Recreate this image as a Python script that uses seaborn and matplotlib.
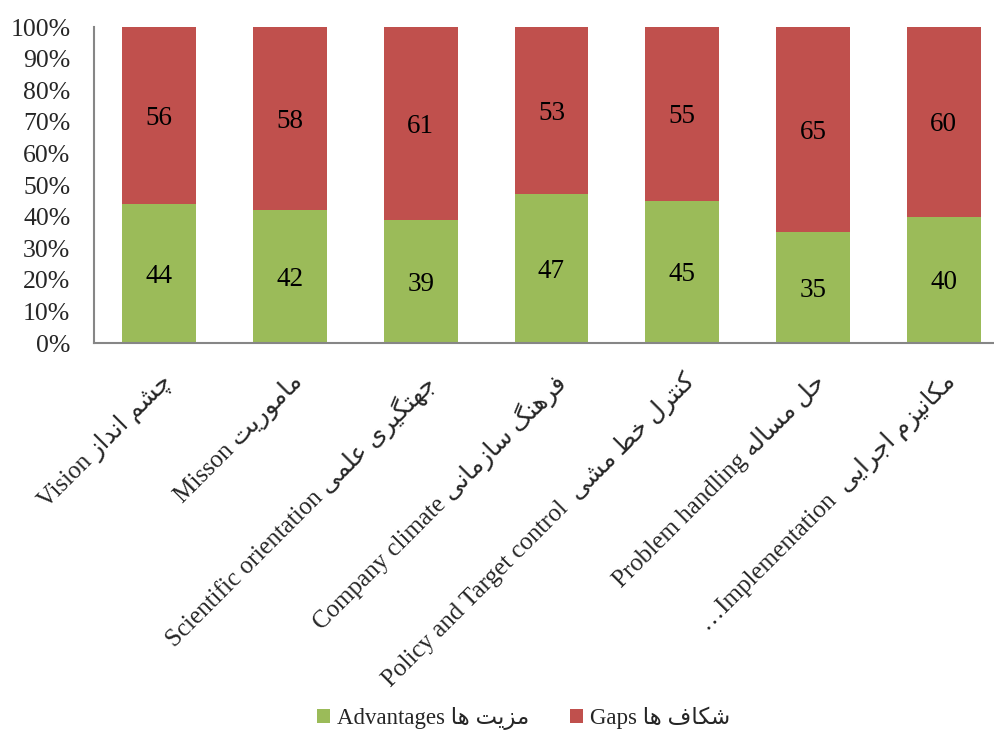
import matplotlib
matplotlib.use("Agg")
import matplotlib.pyplot as plt
import matplotlib.transforms as mtransforms
from matplotlib.patches import Patch
import pandas as pd
import seaborn as sns

# chart data
categories_en = ["Vision", "Misson", "Scientific orientation", "Company climate",
                 "Policy and Target control", "Problem handling", "…Implementation"]
categories_fa = ["چشم انداز", "ماموریت", "جهتگیری علمی", "فرهنگ سازمانی",
                 "کنترل خط مشی", "حل مساله", "مکانیزم اجرایی"]
label_gaps = [" ", " ", " ", " ", "  ", " ", "  "]
advantages = [44, 42, 39, 47, 45, 35, 40]
gaps = [56, 58, 61, 53, 55, 65, 60]
series_en = ["Advantages", "Gaps"]
series_fa = ["مزیت ها", "شکاف ها"]
yticks = [0, 10, 20, 30, 40, 50, 60, 70, 80, 90, 100]

GREEN = "#9BBB59"
RED = "#C0504D"
SPINE = "#868686"

# Persian presentation forms: isolated, final, initial, medial
FORMS = {
    "ا": ("\uFE8D", "\uFE8E", None, None),
    "د": ("\uFEA9", "\uFEAA", None, None),
    "ر": ("\uFEAD", "\uFEAE", None, None),
    "ز": ("\uFEAF", "\uFEB0", None, None),
    "و": ("\uFEED", "\uFEEE", None, None),
    "ت": ("\uFE95", "\uFE96", "\uFE97", "\uFE98"),
    "ج": ("\uFE9D", "\uFE9E", "\uFE9F", "\uFEA0"),
    "چ": ("\uFB7A", "\uFB7B", "\uFB7C", "\uFB7D"),
    "ح": ("\uFEA1", "\uFEA2", "\uFEA3", "\uFEA4"),
    "خ": ("\uFEA5", "\uFEA6", "\uFEA7", "\uFEA8"),
    "س": ("\uFEB1", "\uFEB2", "\uFEB3", "\uFEB4"),
    "ش": ("\uFEB5", "\uFEB6", "\uFEB7", "\uFEB8"),
    "ط": ("\uFEC1", "\uFEC2", "\uFEC3", "\uFEC4"),
    "ع": ("\uFEC9", "\uFECA", "\uFECB", "\uFECC"),
    "ف": ("\uFED1", "\uFED2", "\uFED3", "\uFED4"),
    "ک": ("\uFB8E", "\uFB8F", "\uFB90", "\uFB91"),
    "گ": ("\uFB92", "\uFB93", "\uFB94", "\uFB95"),
    "ل": ("\uFEDD", "\uFEDE", "\uFEDF", "\uFEE0"),
    "م": ("\uFEE1", "\uFEE2", "\uFEE3", "\uFEE4"),
    "ن": ("\uFEE5", "\uFEE6", "\uFEE7", "\uFEE8"),
    "ه": ("\uFEE9", "\uFEEA", "\uFEEB", "\uFEEC"),
    "ی": ("\uFBFC", "\uFBFD", "\uFBFE", "\uFBFF"),
}


def farsi(text):
    """Shape Persian letters and return them in visual (left-to-right) order."""
    out = []
    for i, ch in enumerate(text):
        if ch not in FORMS:
            out.append(ch)
            continue
        iso, fin, ini, med = FORMS[ch]
        prev = text[i - 1] if i > 0 else ""
        nxt = text[i + 1] if i + 1 < len(text) else ""
        join_prev = prev in FORMS and FORMS[prev][2] is not None
        join_next = ini is not None and nxt in FORMS
        if join_prev and join_next:
            out.append(med)
        elif join_prev:
            out.append(fin)
        elif join_next:
            out.append(ini)
        else:
            out.append(iso)
    return "".join(reversed(out))


df = pd.DataFrame({
    "cat": categories_en,
    "adv": advantages,
    "total": [a + g for a, g in zip(advantages, gaps)],
})

sns.set_style("white")
plt.rcParams["font.family"] = ["Liberation Serif", "DejaVu Sans"]

fig = plt.figure(figsize=(9.94, 7.34), dpi=100)
ax = fig.add_axes([94 / 994, 1 - 343 / 734, (1009 - 94) / 994, (343 - 27) / 734])

sns.barplot(data=df, x="cat", y="total", order=categories_en, color=RED,
            width=0.566, linewidth=0, saturation=1, ax=ax)
sns.barplot(data=df, x="cat", y="adv", order=categories_en, color=GREEN,
            width=0.566, linewidth=0, saturation=1, ax=ax)

# value labels in the middle of each segment
for i, (a, g) in enumerate(zip(advantages, gaps)):
    ax.text(i, a / 2, str(a), ha="center", va="center_baseline", fontsize=19.5, color="black")
    ax.text(i, a + g / 2, str(g), ha="center", va="center_baseline", fontsize=19.5, color="black")

ax.set_xlim(-0.5, len(categories_en) - 0.5)
ax.set_ylim(0, 100)
ax.set_yticks(yticks)
ax.set_yticklabels([f"{t}%" for t in yticks], fontsize=18.5)
ax.set_xlabel("")
ax.set_ylabel("")

labels = [en + gap + farsi(fa) for en, gap, fa in zip(categories_en, label_gaps, categories_fa)]
ax.set_xticks(range(len(labels)))
ax.set_xticklabels(labels, rotation=45, ha="right", va="top",
                   rotation_mode="anchor", fontsize=18)
shift = mtransforms.ScaledTranslation(6 / 100, 0, fig.dpi_scale_trans)
for lbl in ax.get_xticklabels():
    lbl.set_transform(lbl.get_transform() + shift)

ax.tick_params(axis="y", length=0, pad=17)
ax.tick_params(axis="x", length=0, pad=19)

sns.despine(ax=ax, top=True, right=True)
for side in ["left", "bottom"]:
    ax.spines[side].set_color(SPINE)
    ax.spines[side].set_linewidth(1.5)
ax.grid(False)

handles = [Patch(facecolor=GREEN, edgecolor="none"), Patch(facecolor=RED, edgecolor="none")]
legend_labels = [en + " " + farsi(fa) for en, fa in zip(series_en, series_fa)]
fig.legend(handles, legend_labels, loc="center", bbox_to_anchor=(0.527, 0.021),
           ncol=2, frameon=False, fontsize=16.5, handlelength=0.55, handleheight=0.55,
           handletextpad=0.3, columnspacing=1.8)

fig.savefig("out.png", dpi=100)
